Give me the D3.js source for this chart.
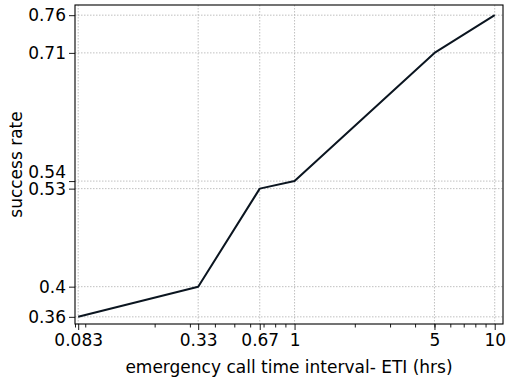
<!DOCTYPE html>
<html>
<head>
<meta charset="utf-8">
<script src="https://cdn.jsdelivr.net/npm/d3@7"></script>
<style>
  body { margin: 0; background: #fff; }
  text { font-family: "DejaVu Sans", sans-serif; }
</style>
</head>
<body>
<div id="main"></div>
<script>
// data
const etiHrs = [0.083, 0.33, 0.67, 1, 5, 10];
const successRate = [0.36, 0.4, 0.53, 0.54, 0.71, 0.76];
const xTickLabels = ["0.083", "0.33", "0.67", "1", "5", "10"];
const yTickLabels = ["0.36", "0.4", "0.53", "0.54", "0.71", "0.76"];

const ctx = {
    w: 506,
    h: 381,
    left: 75,
    right: 503,
    top: 5,
    bottom: 324,
    FONT: 17,
};

function createViz(){
    const svg = d3.select("#main").append("svg")
        .attr("width", ctx.w)
        .attr("height", ctx.h);

    const x = d3.scaleLog().domain([0.08, 11]).range([ctx.left, ctx.right]);
    const y = d3.scaleLinear().domain([0.3505, 0.7735]).range([ctx.bottom, ctx.top]);

    // minor ticks for the log axis (2..9 in each decade)
    const minor = [];
    [0.01, 0.1, 1, 10].forEach(function(dec){
        for (let k = 2; k <= 9; k++){
            const v = dec * k;
            if (v >= 0.08 && v <= 11) minor.push(v);
        }
    });

    // grid
    const grid = svg.append("g").attr("id", "grid")
        .attr("stroke", "#b0b0b0").attr("stroke-width", 0.8)
        .attr("stroke-dasharray", "1.5,1.5");
    grid.selectAll("line.gx").data(etiHrs).enter().append("line")
        .attr("x1", d => x(d)).attr("x2", d => x(d))
        .attr("y1", ctx.top).attr("y2", ctx.bottom);
    grid.selectAll("line.gy").data(successRate).enter().append("line")
        .attr("y1", d => y(d)).attr("y2", d => y(d))
        .attr("x1", ctx.left).attr("x2", ctx.right);

    // axes
    const xAxis = d3.axisBottom(x).tickValues(etiHrs)
        .tickFormat((d, i) => xTickLabels[i]).tickSize(6).tickPadding(4);
    const xMinor = d3.axisBottom(x).tickValues(minor).tickFormat("").tickSize(3.5);
    const yAxis = d3.axisLeft(y).tickValues(successRate)
        .tickFormat((d, i) => yTickLabels[i]).tickSize(6).tickPadding(3);

    const gx = svg.append("g").attr("transform", "translate(0," + ctx.bottom + ")");
    gx.call(xMinor);
    gx.append("g").call(xAxis);
    const gy = svg.append("g").attr("transform", "translate(" + ctx.left + ",0)").call(yAxis);

    svg.selectAll(".domain").remove();
    svg.selectAll(".tick line").attr("stroke", "#000").attr("stroke-width", 0.9);
    svg.selectAll(".tick text").attr("fill", "#000")
        .style("font-size", ctx.FONT + "px").style("font-family", "DejaVu Sans");
    // the 0.54 label sits a little above its tick so it clears 0.53
    gy.selectAll(".tick text").filter(d => d === 0.54).attr("dy", "-0.2em");

    // line
    const pts = etiHrs.map((d, i) => [d, successRate[i]]);
    svg.append("path")
        .datum(pts)
        .attr("fill", "none")
        .attr("stroke", "#0b1520")
        .attr("stroke-width", 2)
        .attr("stroke-linejoin", "round")
        .attr("d", d3.line().x(d => x(d[0])).y(d => y(d[1])));

    // frame
    svg.append("rect")
        .attr("x", ctx.left).attr("y", ctx.top)
        .attr("width", ctx.right - ctx.left).attr("height", ctx.bottom - ctx.top)
        .attr("fill", "none").attr("stroke", "#000").attr("stroke-width", 1.1);

    // labels
    svg.append("text")
        .attr("x", (ctx.left + ctx.right) / 2).attr("y", 373)
        .attr("text-anchor", "middle")
        .style("font-size", ctx.FONT + "px")
        .text("emergency call time interval- ETI (hrs)");
    svg.append("text")
        .attr("transform", "translate(22," + (ctx.top + ctx.bottom) / 2 + ") rotate(-90)")
        .attr("text-anchor", "middle")
        .style("font-size", ctx.FONT + "px")
        .text("success rate");
}

createViz();
</script>
</body>
</html>
